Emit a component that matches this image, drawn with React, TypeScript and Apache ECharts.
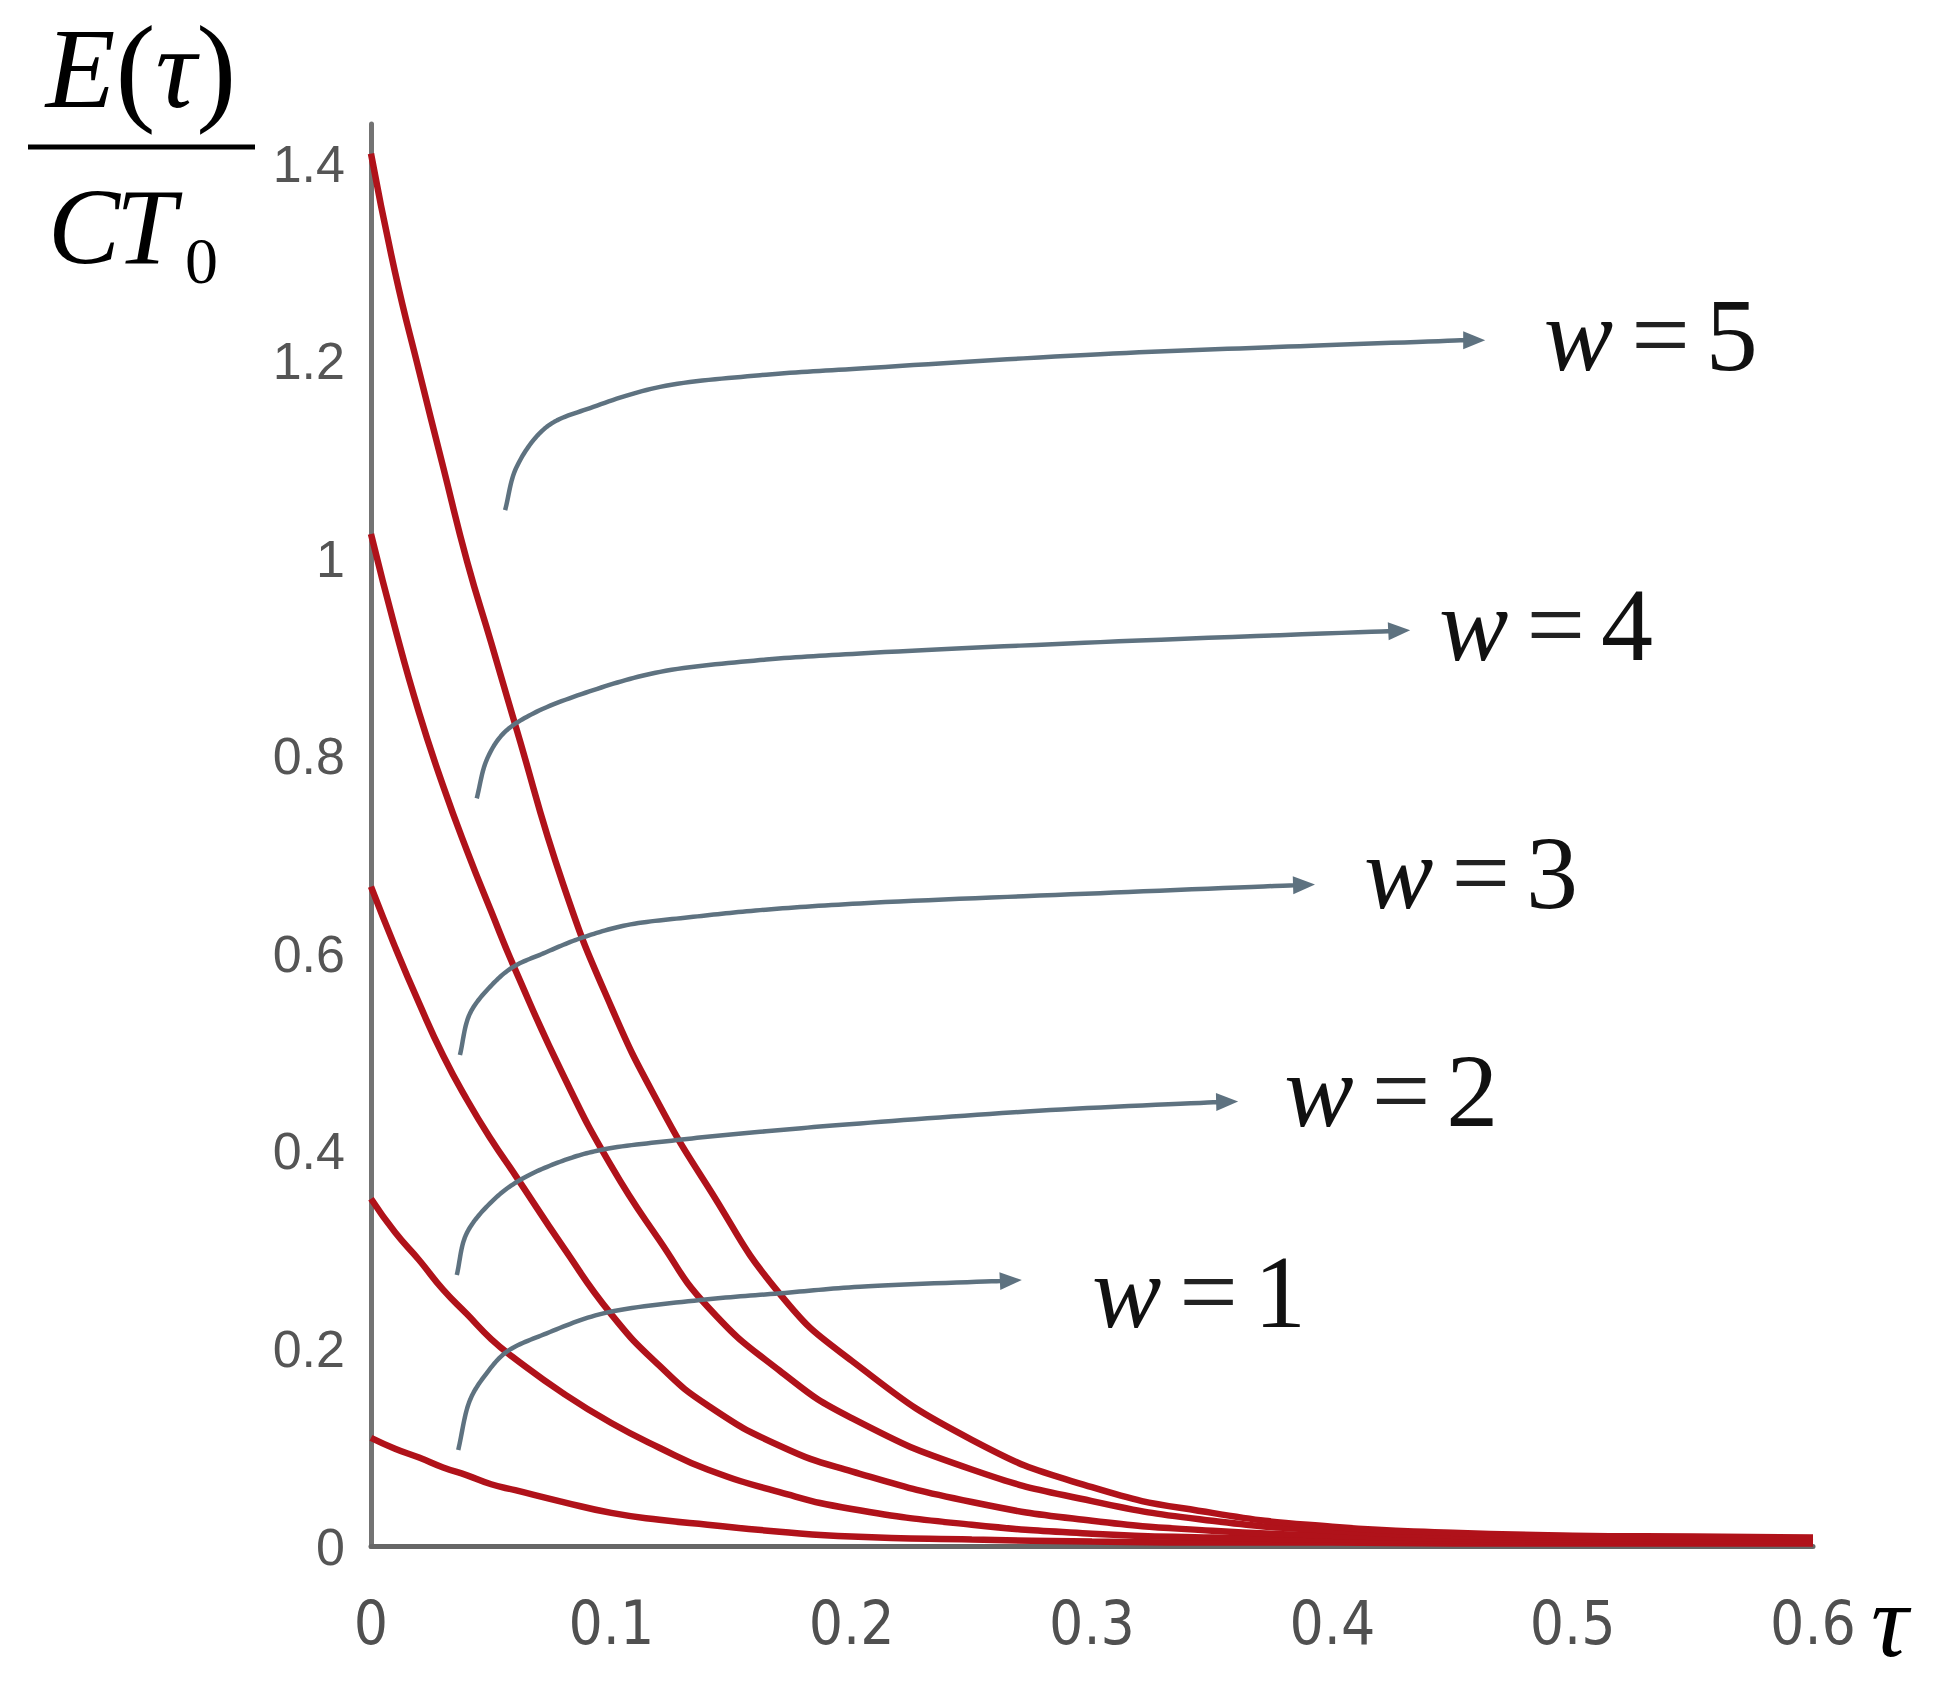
import React, { useEffect, useRef } from 'react';
import * as echarts from 'echarts';

// ---- data ----
const tau = [0, 0.01, 0.02, 0.03, 0.04, 0.05, 0.06, 0.08, 0.1, 0.12, 0.14, 0.17, 0.2, 0.25, 0.3, 0.35, 0.4, 0.45, 0.5, 0.55, 0.6];
const w5 = [1.41, 1.29, 1.19, 1.093, 0.997, 0.915, 0.832, 0.67, 0.546, 0.447, 0.365, 0.256, 0.188, 0.108, 0.06, 0.034, 0.02, 0.014, 0.011, 0.01, 0.009];
const w4 = [1.025, 0.93, 0.844, 0.77, 0.704, 0.643, 0.584, 0.477, 0.385, 0.31, 0.243, 0.178, 0.13, 0.078, 0.046, 0.026, 0.016, 0.011, 0.009, 0.008, 0.008];
const w3 = [0.668, 0.607, 0.55, 0.497, 0.452, 0.412, 0.376, 0.303, 0.235, 0.183, 0.143, 0.102, 0.076, 0.045, 0.026, 0.016, 0.011, 0.008, 0.007, 0.006, 0.006];
const w2 = [0.352, 0.318, 0.29, 0.26, 0.235, 0.21, 0.19, 0.155, 0.125, 0.1, 0.078, 0.055, 0.038, 0.022, 0.013, 0.009, 0.007, 0.006, 0.005, 0.005, 0.004];
const w1 = [0.11, 0.099, 0.09, 0.08, 0.072, 0.063, 0.057, 0.045, 0.034, 0.027, 0.022, 0.015, 0.01, 0.007, 0.005, 0.004, 0.004, 0.003, 0.003, 0.003, 0.003];

const xTickLabels = ['0', '0.1', '0.2', '0.3', '0.4', '0.5', '0.6'];
const yTickLabels = ['0', '0.2', '0.4', '0.6', '0.8', '1', '1.2', '1.4'];
const wNames = ['1', '2', '3', '4', '5'];

// annotation arrows, in data coordinates [tau, value]
const arrow1 = [[0.0363, 0.0977], [0.0412, 0.1483], [0.0481, 0.1753], [0.0565, 0.1972], [0.0731, 0.2158], [0.0967, 0.236], [0.1369, 0.2495], [0.1702, 0.2563], [0.2035, 0.263], [0.2622, 0.2687]];
const arrow2 = [[0.0357, 0.2748], [0.0398, 0.317], [0.0509, 0.3507], [0.062, 0.371], [0.0787, 0.3895], [0.0953, 0.4013], [0.1272, 0.4114], [0.1619, 0.4198], [0.2035, 0.4283], [0.2826, 0.4418], [0.3525, 0.4499]];
const arrow3 = [[0.037, 0.4975], [0.0412, 0.5397], [0.0509, 0.57], [0.0592, 0.5868], [0.0717, 0.6004], [0.087, 0.6156], [0.1064, 0.629], [0.1341, 0.6374], [0.1619, 0.6442], [0.2035, 0.651], [0.3034, 0.6614], [0.3845, 0.6695]];
const arrow4 = [[0.044, 0.7573], [0.0481, 0.7961], [0.0551, 0.8231], [0.0675, 0.8433], [0.0925, 0.8669], [0.1203, 0.8854], [0.1619, 0.8973], [0.2035, 0.904], [0.3034, 0.9155], [0.4241, 0.9266]];
const arrow5 = [[0.0558, 1.0491], [0.0606, 1.0929], [0.0731, 1.1334], [0.0925, 1.1536], [0.1203, 1.1739], [0.1619, 1.1857], [0.2035, 1.1925], [0.3034, 1.207], [0.3866, 1.2151], [0.4553, 1.2212]];
const arrowTips = [[0.2708, 0.2697], [0.3608, 0.4504], [0.3928, 0.6701], [0.4324, 0.9276], [0.4636, 1.2212]];
const labelAnchors = [[0.3, 0.2586], [0.38, 0.462], [0.4132, 0.682], [0.4444, 0.933], [0.488, 1.227]];

const SERIF = "'Liberation Serif', 'Times New Roman', serif";

// centripetal Catmull-Rom through the given pixel points (for drawing the annotation arrows smoothly)
function catmullRom(pts: number[][], segs = 16): number[][] {
  const n = pts.length;
  if (n < 3) return pts;
  const out: number[][] = [];
  const d = (a: number[], b: number[]) => Math.max(Math.pow(Math.hypot(b[0] - a[0], b[1] - a[1]), 0.5), 1e-4);
  const lerp = (a: number[], b: number[], ta: number, tb: number, t: number) => {
    const k = (t - ta) / (tb - ta);
    return [a[0] + (b[0] - a[0]) * k, a[1] + (b[1] - a[1]) * k];
  };
  for (let i = 0; i < n - 1; i++) {
    const p1 = pts[i];
    const p2 = pts[i + 1];
    const p0 = i > 0 ? pts[i - 1] : [2 * p1[0] - p2[0], 2 * p1[1] - p2[1]];
    const p3 = i + 2 < n ? pts[i + 2] : [2 * p2[0] - p1[0], 2 * p2[1] - p1[1]];
    const t0 = 0;
    const t1 = t0 + d(p0, p1);
    const t2 = t1 + d(p1, p2);
    const t3 = t2 + d(p2, p3);
    for (let s = 0; s < segs; s++) {
      const t = t1 + ((t2 - t1) * s) / segs;
      const A1 = lerp(p0, p1, t0, t1, t);
      const A2 = lerp(p1, p2, t1, t2, t);
      const A3 = lerp(p2, p3, t2, t3, t);
      const B1 = lerp(A1, A2, t0, t2, t);
      const B2 = lerp(A2, A3, t1, t3, t);
      out.push(lerp(B1, B2, t1, t2, t));
    }
  }
  out.push(pts[n - 1]);
  return out;
}

export default function App() {
  const ref = useRef<HTMLDivElement>(null);

  useEffect(() => {
    const el = ref.current;
    if (!el) return;
    const chart = echarts.init(el, null, { renderer: 'svg' });
    const curves = [w1, w2, w3, w4, w5];

    chart.setOption({
      animation: false,
      backgroundColor: '#ffffff',
      grid: { left: 371, right: 132, top: 124, bottom: 144.5, containLabel: false },
      xAxis: {
        type: 'value',
        min: 0,
        max: 0.6,
        interval: 0.1,
        axisLine: { show: true, lineStyle: { color: '#666666', width: 5 } },
        axisTick: { show: false },
        splitLine: { show: false },
        axisLabel: {
          margin: 46,
          fontSize: 60,
          color: '#505050',
          fontFamily: "'Liberation Sans Narrow', 'DejaVu Sans Condensed', 'Liberation Sans', sans-serif",
          formatter: (v: number) => {
            const i = Math.round(v / 0.1);
            return Math.abs(v - i * 0.1) < 1e-6 && i < xTickLabels.length ? xTickLabels[i] : '';
          },
        },
        name: 'τ',
        nameLocation: 'end',
        nameGap: 58,
        nameTextStyle: {
          fontFamily: SERIF,
          fontStyle: 'italic',
          fontSize: 104,
          color: '#000000',
          verticalAlign: 'top',
          lineHeight: 104,
          padding: [22, 0, 0, 0],
        },
      },
      yAxis: {
        type: 'value',
        min: 0,
        max: 1.44,
        interval: 0.2,
        axisLine: { show: true, lineStyle: { color: '#737373', width: 5 } },
        axisTick: { show: false },
        splitLine: { show: false },
        axisLabel: {
          margin: 26,
          fontSize: 52,
          color: '#555555',
          fontFamily: "'Liberation Sans', Arial, sans-serif",
          showMaxLabel: false,
          formatter: (v: number) => {
            const i = Math.round(v / 0.2);
            return Math.abs(v - i * 0.2) < 1e-6 && i < yTickLabels.length ? yTickLabels[i] : '';
          },
        },
      },
      series: curves.map((vals, k) => ({
        type: 'line',
        name: 'w = ' + wNames[k],
        data: tau.map((t, i) => [t, vals[i]]),
        smooth: 0.5,
        showSymbol: false,
        symbol: 'none',
        lineStyle: { color: '#b0121a', width: 6.5 },
        z: 3,
      })),
    });

    const px = (p: number[]) => chart.convertToPixel({ gridIndex: 0 }, p) as number[];
    const arrows = [arrow1, arrow2, arrow3, arrow4, arrow5];
    const graphics: any[] = [];
    const arrowColor = '#5e7280';

    arrows.forEach((pts, k) => {
      const points = pts.map(px);
      const tip = px(arrowTips[k]);
      const last = points[points.length - 1];
      let dx = tip[0] - last[0];
      let dy = tip[1] - last[1];
      const len = Math.hypot(dx, dy) || 1;
      dx /= len;
      dy /= len;
      const L = 22;
      const W = 9;
      const bx = tip[0] - dx * L;
      const by = tip[1] - dy * L;
      graphics.push({
        type: 'polyline',
        shape: { points: catmullRom([...points, [bx, by]]) },
        style: { stroke: arrowColor, lineWidth: 4.5, fill: null, lineJoin: 'round', lineCap: 'butt' },
        z: 10,
      });
      graphics.push({
        type: 'polygon',
        shape: { points: [tip, [bx - dy * W, by + dx * W], [bx + dy * W, by - dx * W]] },
        style: { fill: arrowColor },
        z: 10,
      });
      const a = px(labelAnchors[k]);
      graphics.push({
        type: 'text',
        x: a[0],
        y: a[1],
        z: 10,
        style: {
          text: '{w|w}{eq|=}{n|' + wNames[k] + '}',
          align: 'left',
          verticalAlign: 'middle',
          rich: {
            w: { fontFamily: SERIF, fontStyle: 'italic', fontSize: 104, fill: '#111111' },
            eq: { fontFamily: SERIF, fontSize: 104, fill: '#222222', padding: [0, 16, 0, 18] },
            n: { fontFamily: SERIF, fontSize: 104, fill: '#111111' },
          },
        },
      });
    });

    // y-axis title: E(τ) / C T0 as a fraction
    graphics.push({
      type: 'text',
      x: 141,
      y: 68,
      z: 10,
      style: {
        text: '{i|E}{n|(}{i|τ}{n|)}',
        align: 'center',
        verticalAlign: 'middle',
        rich: {
          i: { fontFamily: SERIF, fontStyle: 'italic', fontSize: 114, fill: '#000000' },
          n: { fontFamily: SERIF, fontSize: 120, fill: '#000000' },
        },
      },
    });
    graphics.push({
      type: 'line',
      shape: { x1: 28, y1: 147, x2: 255, y2: 147 },
      style: { stroke: '#000000', lineWidth: 5 },
      z: 10,
    });
    graphics.push({
      type: 'text',
      x: 48,
      y: 226,
      z: 10,
      style: {
        text: 'C',
        align: 'left',
        verticalAlign: 'middle',
        fontFamily: SERIF,
        fontStyle: 'italic',
        fontSize: 108,
        fill: '#000000',
      },
    });
    graphics.push({
      type: 'text',
      x: 116,
      y: 226,
      z: 10,
      style: {
        text: 'T',
        align: 'left',
        verticalAlign: 'middle',
        fontFamily: SERIF,
        fontStyle: 'italic',
        fontSize: 108,
        fill: '#000000',
      },
    });
    graphics.push({
      type: 'text',
      x: 185,
      y: 260,
      z: 10,
      style: {
        text: '0',
        align: 'left',
        verticalAlign: 'middle',
        fontFamily: SERIF,
        fontSize: 66,
        fill: '#000000',
      },
    });

    chart.setOption({ graphic: graphics });

    return () => {
      chart.dispose();
    };
  }, []);

  return (
    <div
      ref={ref}
      style={{ position: 'fixed', left: 0, top: 0, width: 1945, height: 1691, background: '#ffffff' }}
    />
  );
}
